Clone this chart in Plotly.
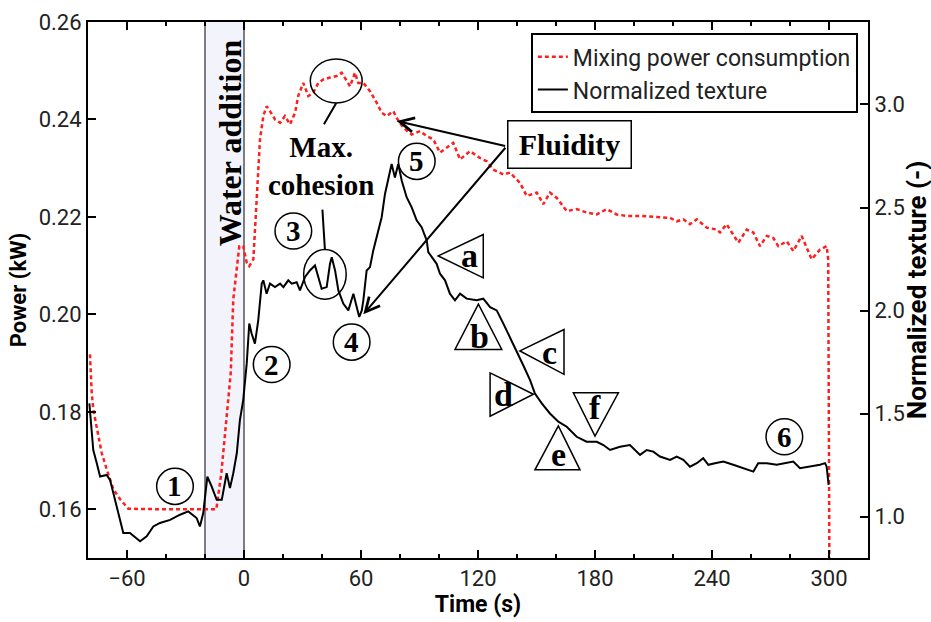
import plotly.graph_objects as go

# ---------------- data ----------------
power_time_s = [
    -79.0, -78.1, -77.3, -75.5, -73.0, -70.4, -67.0, -63.6, -59.3, -40.0,
    -14.2, -11.6, -9.9, -8.2, -6.8, -5.5, -3.7, -2.4, -0.4, 1.4,
    2.7, 4.8, 6.5, 8.2, 9.9, 11.6, 13.3, 15.9, 18.5, 21.0,
    23.6, 26.2, 27.8, 30.4, 33.0, 35.5, 38.1, 40.7, 44.1, 47.5,
    50.1, 52.7, 54.4, 56.9, 58.6, 61.2, 64.6, 68.1, 70.6, 73.2,
    76.6, 78.3, 81.7, 86.0, 90.3, 93.7, 97.1, 100.5, 107.3, 110.8,
    115.9, 121.0, 124.5, 127.8, 133.0, 136.4, 141.5, 145.0, 150.1, 153.5,
    156.9, 160.4, 165.5, 170.6, 175.7, 180.9, 186.0, 191.1, 196.3, 203.1,
    210.0, 218.5, 221.9, 225.3, 228.7, 232.2, 237.3, 242.4, 244.1, 247.5,
    253.5, 257.8, 261.2, 264.6, 268.1, 271.4, 274.0, 278.3, 281.7, 286.0,
    291.1, 295.4, 298.8, 299.6, 300.2,
]
power_kw = [
    0.1918, 0.1840, 0.1805, 0.1764, 0.1716, 0.1682, 0.1641, 0.1621, 0.1601, 0.1600,
    0.1600, 0.1675, 0.1744, 0.1812, 0.1880, 0.2031, 0.2099, 0.2140, 0.2140, 0.2106,
    0.2099, 0.2113, 0.2236, 0.2359, 0.2407, 0.2427, 0.2417, 0.2400, 0.2393, 0.2407,
    0.2390, 0.2414, 0.2448, 0.2475, 0.2448, 0.2455, 0.2475, 0.2482, 0.2486, 0.2489,
    0.2496, 0.2479, 0.2468, 0.2496, 0.2475, 0.2475, 0.2458, 0.2434, 0.2414, 0.2407,
    0.2417, 0.2403, 0.2383, 0.2369, 0.2376, 0.2366, 0.2359, 0.2332, 0.2352, 0.2318,
    0.2335, 0.2321, 0.2314, 0.2297, 0.2287, 0.2291, 0.2270, 0.2243, 0.2250, 0.2226,
    0.2250, 0.2239, 0.2212, 0.2216, 0.2209, 0.2205, 0.2216, 0.2205, 0.2202, 0.2202,
    0.2200, 0.2198, 0.2191, 0.2195, 0.2185, 0.2195, 0.2178, 0.2174, 0.2168, 0.2185,
    0.2147, 0.2174, 0.2168, 0.2140, 0.2161, 0.2157, 0.2140, 0.2150, 0.2130, 0.2161,
    0.2113, 0.2133, 0.2140, 0.2113, 0.1480,
]

texture_time_s = [
    -79.3, -77.3, -75.5, -73.8, -70.4, -68.7, -65.3, -61.9, -58.5, -53.3,
    -49.9, -46.5, -43.1, -37.9, -32.8, -28.6, -24.3, -22.6, -20.9, -18.8,
    -16.6, -14.0, -11.4, -8.9, -7.2, -5.5, -3.7, -2.1, -0.4, 1.4,
    2.7, 3.9, 5.6, 7.3, 9.1, 9.9, 11.6, 13.3, 15.9, 18.5,
    20.2, 22.7, 24.5, 27.0, 28.7, 31.3, 33.8, 36.4, 38.1, 39.8,
    42.4, 44.1, 45.0, 46.7, 48.4, 50.9, 53.5, 56.1, 57.8, 59.1,
    60.4, 61.2, 62.9, 64.6, 66.3, 68.9, 70.6, 72.3, 74.0, 75.7,
    77.4, 79.1, 80.9, 83.4, 86.0, 88.6, 91.1, 93.7, 94.5, 98.8,
    100.5, 103.1, 105.6, 108.2, 110.8, 114.2, 119.3, 122.7, 126.2, 129.6,
    133.0, 136.4, 139.8, 143.2, 146.7, 149.2, 152.7, 156.9, 161.2, 165.5,
    170.6, 175.7, 180.9, 184.3, 187.7, 192.8, 197.9, 203.1, 206.5, 209.9,
    213.3, 218.5, 221.9, 225.3, 228.7, 232.2, 235.5, 238.1, 241.5, 245.8,
    250.9, 256.1, 261.2, 263.7, 268.1, 273.2, 278.3, 281.7, 285.1, 290.3,
    295.4, 298.0, 298.8, 299.8,
]
texture_norm = [
    1.550, 1.324, 1.260, 1.195, 1.203, 1.179, 1.050, 0.921, 0.921, 0.881,
    0.905, 0.953, 0.970, 0.985, 1.010, 1.026, 0.994, 0.953, 1.018, 1.195,
    1.147, 1.082, 1.082, 1.211, 1.139, 1.211, 1.308, 1.469, 1.566, 1.744,
    1.937, 1.889, 1.840, 1.953, 2.131, 2.147, 2.082, 2.131, 2.114, 2.131,
    2.114, 2.147, 2.131, 2.138, 2.098, 2.163, 2.195, 2.219, 2.163, 2.106,
    2.114, 2.227, 2.259, 2.195, 2.098, 2.034, 2.001, 2.082, 2.017, 1.969,
    2.001, 2.050, 2.195, 2.211, 2.292, 2.389, 2.453, 2.566, 2.646, 2.711,
    2.646, 2.711, 2.630, 2.550, 2.501, 2.437, 2.405, 2.340, 2.284, 2.227,
    2.179, 2.147, 2.082, 2.050, 2.082, 2.058, 2.050, 2.058, 2.017, 2.001,
    1.937, 1.872, 1.808, 1.735, 1.663, 1.598, 1.550, 1.501, 1.461, 1.437,
    1.388, 1.364, 1.364, 1.348, 1.324, 1.340, 1.348, 1.300, 1.324, 1.316,
    1.292, 1.276, 1.292, 1.276, 1.243, 1.260, 1.284, 1.252, 1.260, 1.268,
    1.252, 1.236, 1.219, 1.260, 1.260, 1.252, 1.260, 1.268, 1.236, 1.243,
    1.252, 1.260, 1.243, 1.155,
]

x_tick_values = [-60, 0, 60, 120, 180, 240, 300]
power_tick_values = [0.16, 0.18, 0.20, 0.22, 0.24, 0.26]
texture_tick_values = [1.0, 1.5, 2.0, 2.5, 3.0]

assert len(power_time_s) == len(power_kw)
assert len(texture_time_s) == len(texture_norm)

# ---------------- styling ----------------
SANS = "Roboto"
SERIF = "Liberation Serif"
TICK_FONT = dict(family=SANS, size=22, color="#222")

fig = go.Figure()
fig.add_trace(go.Scatter(
    x=power_time_s, y=power_kw, mode="lines", name="Mixing power consumption",
    line=dict(color="#ff1f1f", width=2.5, dash="4px,3px"), yaxis="y"))
fig.add_trace(go.Scatter(
    x=texture_time_s, y=texture_norm, mode="lines", name="Normalized texture",
    line=dict(color="black", width=2), yaxis="y2"))

# water addition band
fig.add_shape(type="rect", xref="x", yref="paper", x0=-20, x1=0, y0=0, y1=1,
              fillcolor="#f2f3fb", line=dict(width=0), layer="below")
for xv in (-20, 0):
    fig.add_shape(type="line", xref="x", yref="paper", x0=xv, x1=xv, y0=0, y1=1,
                  line=dict(color="#555", width=1.5), layer="below")

def serif_text(x, y, text, size=30, angle=0):
    fig.add_annotation(x=x, y=y, xref="x", yref="y", text=text, showarrow=False,
                       textangle=angle,
                       font=dict(family=SERIF, size=size, color="black", weight="bold"))

serif_text(-7.2, 0.2353, "Water addition", size=32, angle=-90)
serif_text(39.5, 0.2304, "Max.<br>cohesion", size=29)

# ellipses around max power and around point 3, with leader lines
for cx, cy, hx, hy in [(47.3, 0.2479, 13.3, 0.0045), (41.5, 0.2082, 10.9, 0.0051)]:
    fig.add_shape(type="circle", xref="x", yref="y", x0=cx - hx, x1=cx + hx,
                  y0=cy - hy, y1=cy + hy, line=dict(color="black", width=1.5))
for x0, y0, x1, y1 in [(47.3, 0.2434, 41.0, 0.2390), (40.2, 0.2215, 41.5, 0.2133)]:
    fig.add_shape(type="line", xref="x", yref="y", x0=x0, y0=y0, x1=x1, y1=y1,
                  line=dict(color="black", width=2))

# circled numbers
number_marks = [("1", -35.4, 0.1647), ("2", 14.2, 0.1897), ("3", 25.3, 0.2171),
                ("4", 55.2, 0.1943), ("5", 88.6, 0.2314), ("6", 277.1, 0.1749)]
for lab, cx, cy in number_marks:
    fig.add_shape(type="circle", xref="x", yref="y", x0=cx - 9.4, x1=cx + 9.4,
                  y0=cy - 0.0037, y1=cy + 0.0037, line=dict(color="black", width=1.5))
    serif_text(cx, cy, lab, size=29)

# triangle labels
triangles = [
    ("a", [(99.6, 0.2120), (122.7, 0.2164), (122.7, 0.2075)], (115.6, 0.2121)),
    ("b", [(120.2, 0.2021), (108.2, 0.1928), (132.2, 0.1928)], (121.0, 0.1954)),
    ("c", [(141.5, 0.1925), (164.1, 0.1969), (164.1, 0.1877)], (156.6, 0.1922)),
    ("d", [(148.4, 0.1836), (126.2, 0.1880), (126.2, 0.1791)], (133.3, 0.1836)),
    ("e", [(161.2, 0.1771), (149.2, 0.1681), (172.3, 0.1681)], (161.2, 0.1712)),
    ("f", [(168.9, 0.1839), (192.0, 0.1839), (180.0, 0.1750)], (179.8, 0.1808)),
]
for lab, pts, (lx, ly) in triangles:
    path = "M {} {} L {} {} L {} {} Z".format(pts[0][0], pts[0][1], pts[1][0], pts[1][1],
                                             pts[2][0], pts[2][1])
    fig.add_shape(type="path", xref="x", yref="y", path=path,
                  line=dict(color="black", width=1.5))
    serif_text(lx, ly, lab, size=34)

# Fluidity box and arrows
fig.add_annotation(x=166.7, y=0.2349, xref="x", yref="y", text="Fluidity", showarrow=False,
                   font=dict(family=SERIF, size=30, color="black", weight="bold"),
                   bordercolor="black", borderwidth=1.5, borderpad=4, bgcolor="white",
                   width=114, height=38)
for hx, hy in [(78.3, 0.2397), (61.2, 0.2000)]:
    fig.add_annotation(x=hx, y=hy, xref="x", yref="y", ax=134.7, ay=0.2345,
                       axref="x", ayref="y", text="", showarrow=True,
                       arrowhead=5, arrowsize=1.4, arrowwidth=2, arrowcolor="black")

# right axis title (placed as text so it sits at the far right like the reference)
fig.add_annotation(x=1.063, y=0.5, xref="paper", yref="paper", xanchor="center",
                   yanchor="middle", text="Normalized texture (-)", showarrow=False,
                   textangle=-90,
                   font=dict(family=SANS, size=26, color="black", weight="bold"))

axis_common = dict(showline=True, linecolor="black", linewidth=2, ticks="inside",
                   tickcolor="black", tickwidth=2, ticklen=8, showgrid=False,
                   zeroline=False, tickfont=TICK_FONT, automargin=False)

fig.update_layout(
    width=931, height=622, autosize=False,
    margin=dict(l=88, r=63, t=22, b=64),
    plot_bgcolor="white", paper_bgcolor="white",
    xaxis=dict(range=[-80, 320], tickvals=x_tick_values, mirror="ticks",
               minor=dict(ticks="inside", dtick=20, tick0=0, ticklen=4, tickwidth=1.5,
                          tickcolor="black"),
               title=dict(text="Time (s)", standoff=4,
                          font=dict(family=SANS, size=23, color="black", weight="bold")),
               **axis_common),
    yaxis=dict(range=[0.15, 0.26], tickvals=power_tick_values, tickformat=".2f",
               mirror=True,
               title=dict(text="Power (kW)", standoff=6,
                          font=dict(family=SANS, size=22, color="black", weight="bold")),
               **axis_common),
    yaxis2=dict(range=[0.8, 3.4], tickvals=texture_tick_values, tickformat=".1f",
                overlaying="y", side="right", **axis_common),
    legend=dict(x=0.987, y=0.979, xanchor="right", yanchor="top",
                bgcolor="white", bordercolor="black", borderwidth=2,
                font=dict(family=SANS, size=23, color="#222"),
                itemwidth=30, tracegroupgap=0),
    showlegend=True,
)

fig.write_html("out.html")
